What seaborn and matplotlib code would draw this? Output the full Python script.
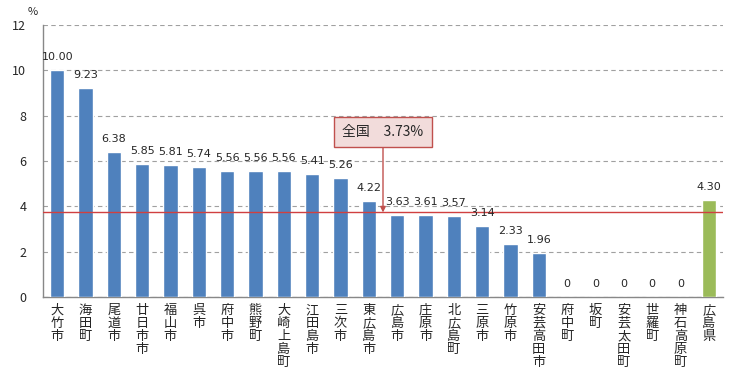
import matplotlib
matplotlib.use("Agg")
import matplotlib.pyplot as plt
import seaborn as sns
import pandas as pd

categories = ["大竹市", "海田町", "尾道市", "廿日市市", "福山市", "呉市", "府中市", "熊野町",
              "大崎上島町", "江田島市", "三次市", "東広島市", "広島市", "庄原市", "北広島町",
              "三原市", "竹原市", "安芸高田市", "府中町", "坂町", "安芸太田町", "世羅町",
              "神石高原町", "広島県"]
values = [10.00, 9.23, 6.38, 5.85, 5.81, 5.74, 5.56, 5.56, 5.56, 5.41, 5.26, 4.22, 3.63,
          3.61, 3.57, 3.14, 2.33, 1.96, 0, 0, 0, 0, 0, 4.30]
national = 3.73
national_label = "全国　3.73%"
yticks = [0, 2, 4, 6, 8, 10, 12]

sns.set_style("white")
plt.rcParams['font.family'] = ['Noto Sans CJK JP', 'DejaVu Sans']

df = pd.DataFrame({"cat": categories, "val": values})
colors = ["#4f81bd"] * (len(categories) - 1) + ["#9bbb59"]
n = len(categories)

fig = plt.figure(figsize=(7.56, 3.79), dpi=100)
ax = fig.add_axes([43/756, 1-297/379, (723-43)/756, (297-25)/379])
sns.barplot(data=df, x="cat", y="val", hue="cat", palette=colors, legend=False,
            width=0.5, saturation=1, ax=ax, zorder=3)

ax.set_xlim(-0.5, n - 0.5)
ax.set_ylim(0, 12)
ax.set_yticks(yticks, labels=[str(t) for t in yticks])
ax.set_xlabel("")
ax.set_ylabel("")

# category boundaries carry the tick marks, category centres carry the labels
ax.set_xticks([i + 0.5 for i in range(n)], labels=[""] * n)
ax.set_xticks(list(range(n)), labels=["\n".join(c) for c in categories], minor=True)
ax.tick_params(axis="x", which="major", length=4, color="#888888", direction="out")
ax.tick_params(axis="x", which="minor", length=0, pad=5, labelsize=9.5)
for lab in ax.get_xticklabels(minor=True):
    lab.set_linespacing(1.0)
    lab.set_verticalalignment("top")
ax.tick_params(axis="y", length=0, pad=12, labelsize=9)

ax.xaxis.grid(False, which="both")
ax.yaxis.grid(True, which="major", color="#a0a0a0", linestyle=(0, (4, 3)), linewidth=0.8)
ax.set_axisbelow(True)

for s in ["top", "right"]:
    ax.spines[s].set_visible(False)
for s in ["left", "bottom"]:
    ax.spines[s].set_color("#888888")
    ax.spines[s].set_linewidth(1.0)

for i, v in enumerate(values):
    lab = "0" if v == 0 else f"{v:.2f}"
    ax.text(i, v + 0.35, lab, ha="center", va="bottom", fontsize=8,
            family=["DejaVu Sans"], zorder=5)

ax.axhline(national, color="#d04040", linewidth=1.0, zorder=4)
ax.annotate(national_label, xy=(11.5, national), xytext=(11.5, 7.28),
            ha="center", va="center", fontsize=10,
            bbox=dict(boxstyle="square,pad=0.6", fc="#f2dcdb", ec="#c0504d", lw=1.0),
            arrowprops=dict(arrowstyle="-|>", color="#c0504d", lw=1.0,
                            shrinkA=0, shrinkB=0, mutation_scale=8),
            zorder=6)

fig.text(33/756, 1-12/379, "%", ha="center", va="center", fontsize=8)

fig.savefig("out.png", dpi=100)
